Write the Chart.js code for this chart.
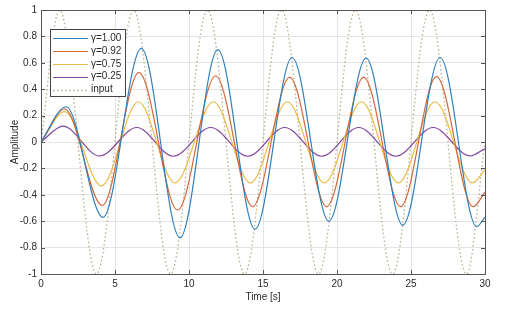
<!DOCTYPE html>
<html>
<head>
<meta charset="utf-8">
<script src="https://cdn.jsdelivr.net/npm/chart.js@4"></script>
<style>
  html, body { margin: 0; padding: 0; background: #fff; }
  #wrap { width: 506px; height: 310px; }
</style>
</head>
<body>
<div id="wrap"><canvas id="respChart"></canvas></div>
<script>
// peaks / troughs (time in s, amplitude)
var inputT = [0, 1.25, 3.75, 6.25, 8.75, 11.25, 13.75, 16.25, 18.75, 21.25, 23.75, 26.25, 28.75, 30];
var inputY = [0, 1, -1, 1, -1, 1, -1, 1, -1, 1, -1, 1, -1, 0];

var g100T = [0, 1.7, 4.19, 6.78, 9.39, 11.95, 14.46, 16.97, 19.45, 21.97, 24.45, 26.97, 29.44, 30];
var g100Y = [0, 0.267, -0.57, 0.71, -0.725, 0.70, -0.66, 0.64, -0.60, 0.635, -0.63, 0.64, -0.64, -0.57];

var g092T = [0, 1.6, 4.14, 6.62, 9.23, 11.8, 14.3, 16.8, 19.3, 21.8, 24.3, 26.72, 29.2, 30];
var g092Y = [0, 0.25, -0.48, 0.525, -0.515, 0.50, -0.49, 0.49, -0.49, 0.49, -0.49, 0.495, -0.49, -0.38];

var g075T = [0, 1.6, 4.08, 6.58, 9.05, 11.65, 14.15, 16.65, 19.15, 21.65, 24.15, 26.62, 29.15, 30];
var g075Y = [0, 0.23, -0.333, 0.305, -0.31, 0.305, -0.31, 0.305, -0.31, 0.305, -0.31, 0.305, -0.31, -0.21];

var g025T = [0, 1.49, 3.96, 6.47, 8.94, 11.47, 13.97, 16.47, 18.97, 21.47, 23.97, 26.5, 29.0, 30];
var g025Y = [0, 0.12, -0.106, 0.11, -0.108, 0.11, -0.108, 0.11, -0.108, 0.11, -0.108, 0.11, -0.106, -0.05];

var seriesLabels = ['\u03b3=1.00', '\u03b3=0.92', '\u03b3=0.75', '\u03b3=0.25', 'input'];
var xTicks = [0, 5, 10, 15, 20, 25, 30];

var FONT = 'Liberation Sans, Arial, Helvetica, sans-serif';
var TXT = '#2b2b2b';

function pts(ts, ys) {
  var out = [];
  for (let i = 0; i < ts.length; i++) out.push({x: ts[i], y: ys[i]});
  return out;
}

function mkSet(label, ts, ys, color, dash) {
  return {
    label: label,
    data: pts(ts, ys),
    borderColor: color,
    backgroundColor: color,
    borderWidth: dash ? 1.3 : 1.2,
    borderDash: dash || [],
    pointRadius: 0,
    fill: false,
    cubicInterpolationMode: 'monotone'
  };
}

// box, inward ticks and legend like the matlab figure
var matlabAxes = {
  id: 'matlabAxes',
  afterDatasetsDraw: function (chart) {
    var ctx = chart.ctx, a = chart.chartArea;
    var xs = chart.scales.x, ys = chart.scales.y;
    ctx.save();
    ctx.strokeStyle = '#555';
    ctx.lineWidth = 1;
    ctx.strokeRect(Math.round(a.left) + 0.5, Math.round(a.top) + 0.5,
                   Math.round(a.right - a.left), Math.round(a.bottom - a.top));
    ctx.beginPath();
    xs.ticks.forEach(function (t) {
      var px = Math.round(xs.getPixelForValue(t.value)) + 0.5;
      ctx.moveTo(px, a.bottom); ctx.lineTo(px, a.bottom - 4);
      ctx.moveTo(px, a.top); ctx.lineTo(px, a.top + 4);
    });
    ys.ticks.forEach(function (t) {
      var py = Math.round(ys.getPixelForValue(t.value)) + 0.5;
      ctx.moveTo(a.left, py); ctx.lineTo(a.left + 4, py);
      ctx.moveTo(a.right, py); ctx.lineTo(a.right - 4, py);
    });
    ctx.stroke();

    // legend
    var lx = a.left + 9, ly = a.top + 19, lw = 75, lh = 67;
    ctx.fillStyle = '#fff';
    ctx.fillRect(lx, ly, lw, lh);
    ctx.strokeStyle = '#444';
    ctx.strokeRect(lx + 0.5, ly + 0.5, lw, lh);
    ctx.font = '10px ' + FONT;
    ctx.textBaseline = 'middle';
    chart.data.datasets.forEach(function (ds, i) {
      var y = ly + 9 + i * 12.9;
      ctx.strokeStyle = ds.borderColor;
      ctx.lineWidth = ds.borderWidth;
      ctx.setLineDash(ds.borderDash);
      ctx.beginPath();
      ctx.moveTo(lx + 3, Math.round(y) + 0.5);
      ctx.lineTo(lx + 38, Math.round(y) + 0.5);
      ctx.stroke();
      ctx.setLineDash([]);
      ctx.fillStyle = TXT;
      ctx.fillText(ds.label, lx + 41, y);
    });
    ctx.restore();
  }
};

var ctx = document.getElementById('respChart').getContext('2d');
new Chart(ctx, {
  type: 'line',
  data: {
    datasets: [
      mkSet(seriesLabels[0], g100T, g100Y, '#2f80bd'),
      mkSet(seriesLabels[1], g092T, g092Y, '#d2673a'),
      mkSet(seriesLabels[2], g075T, g075Y, '#ebbb48'),
      mkSet(seriesLabels[3], g025T, g025Y, '#8245a0'),
      mkSet(seriesLabels[4], inputT, inputY, '#b8ab90', [1.5, 2.5])
    ]
  },
  options: {
    responsive: true,
    maintainAspectRatio: false,
    animation: false,
    layout: { padding: { top: 10, right: 21, left: 0, bottom: 0 } },
    plugins: { legend: { display: false }, tooltip: { enabled: false } },
    scales: {
      x: {
        type: 'linear',
        min: 0,
        max: 30,
        afterBuildTicks: function (s) { s.ticks = xTicks.map(function (v) { return {value: v}; }); },
        ticks: { color: TXT, font: { family: FONT, size: 10 }, padding: 4, maxRotation: 0 },
        grid: { color: '#e4e4e4', drawTicks: false },
        border: { display: false },
        title: { display: true, text: 'Time [s]', color: TXT, font: { family: FONT, size: 10 }, padding: { top: 0, bottom: 7 } },
        afterFit: function (s) { s.height = 36; }
      },
      y: {
        min: -1,
        max: 1,
        ticks: {
          stepSize: 0.2,
          color: TXT,
          font: { family: FONT, size: 10 },
          padding: 4,
          callback: function (v) { return String(Math.round(v * 10) / 10); }
        },
        grid: { color: '#e4e4e4', drawTicks: false },
        border: { display: false },
        title: { display: true, text: 'Amplitude', color: TXT, font: { family: FONT, size: 10 }, padding: { top: 9, bottom: 0 } },
        afterFit: function (s) { s.width = 41; }
      }
    }
  },
  plugins: [matlabAxes]
});
</script>
</body>
</html>
